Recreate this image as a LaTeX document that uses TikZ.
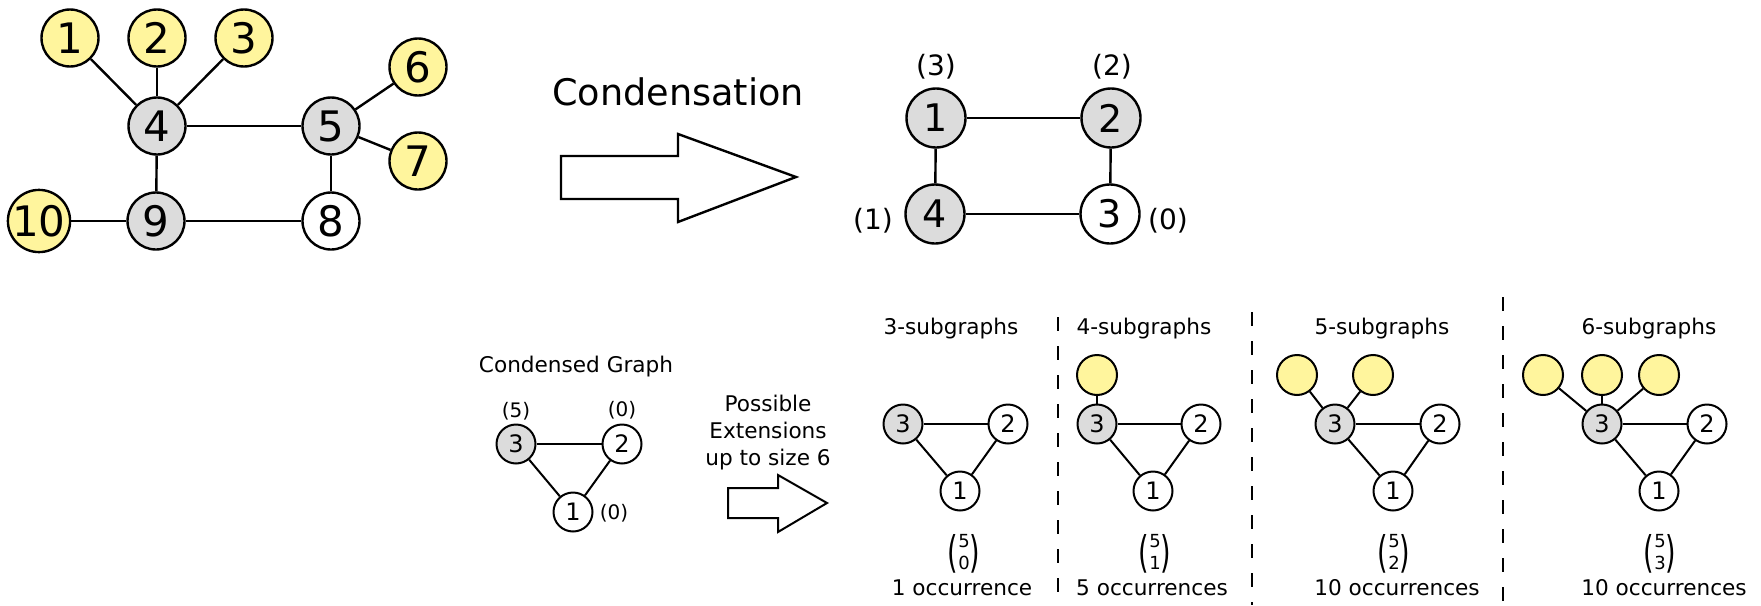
\documentclass[tikz,border=0pt]{standalone}
\usepackage{fontspec}
\setmainfont{DejaVu Sans}
\definecolor{ylw}{HTML}{FFF59D}
\definecolor{gry}{HTML}{DCDCDC}
\newcommand{\myparen}[1]{\vcenter{\hbox{\scalebox{0.9}[1.45]{\fontsize{15}{15}\selectfont#1}}}}
\newcommand{\mybinom}[2]{$\myparen{(}\vcenter{\hbox{\fontsize{9}{10.8}\selectfont\begin{tabular}{@{}c@{}}#1\\#2\end{tabular}}}\myparen{)}$}
\begin{document}
\begin{tikzpicture}[x=0.5pt,y=-0.5pt,
  bign/.style={circle,draw,line width=1.2pt,minimum size=28.5pt,inner sep=0pt,font=\fontsize{21}{21}\selectfont},
  topn/.style={circle,draw,line width=1.2pt,minimum size=29.5pt,inner sep=0pt,font=\fontsize{19}{19}\selectfont},
  sn/.style={circle,draw,line width=1pt,minimum size=19.5pt,inner sep=0pt,font=\fontsize{12}{12}\selectfont},
  yn/.style={circle,draw,line width=1pt,minimum size=20pt,inner sep=0pt,fill=ylw},
  bedge/.style={line width=1.2pt},
  sedge/.style={line width=1pt},
  toplab/.style={font=\fontsize{14}{14}\selectfont,inner sep=0pt},
  smlab/.style={font=\fontsize{10}{10}\selectfont,inner sep=0pt},
  txt/.style={font=\fontsize{10.8}{13.5}\selectfont,inner sep=0pt,align=center},
  binomn/.style={inner sep=0pt},
  bigarrow/.style={draw,line width=1.2pt,fill=white,line join=miter},
  sep/.style={line width=1pt,dash pattern=on 7pt off 7.5pt}
]
\useasboundingbox (0,0) rectangle (1761,605);

% ---------- original graph ----------
\node[bign,fill=ylw] (g1) at (70,38) {1};
\node[bign,fill=ylw] (g2) at (157,38) {2};
\node[bign,fill=ylw] (g3) at (244,38) {3};
\node[bign,fill=gry] (g4) at (157,126) {4};
\node[bign,fill=gry] (g5) at (331,126) {5};
\node[bign,fill=ylw] (g6) at (418,67) {6};
\node[bign,fill=ylw] (g7) at (418,161) {7};
\node[bign,fill=white] (g8) at (331,221) {8};
\node[bign,fill=gry] (g9) at (156,221) {9};
\node[bign,fill=ylw] (g10) at (39,221) {10};
\draw[bedge] (g1) -- (g4);
\draw[bedge] (g2) -- (g4);
\draw[bedge] (g3) -- (g4);
\draw[bedge] (g4) -- (g5);
\draw[bedge] (g4) -- (g9);
\draw[bedge] (g5) -- (g6);
\draw[bedge] (g5) -- (g7);
\draw[bedge] (g5) -- (g8);
\draw[bedge] (g9) -- (g10);
\draw[bedge] (g9) -- (g8);

% ---------- condensation arrow ----------
\node[font=\fontsize{18.3}{18.3}\selectfont,inner sep=0pt] (cond) at (678,92) {Condensation};
\draw[bigarrow] (561,156) -- (678,156) -- (678,134) -- (796,177) -- (678,222) -- (678,199) -- (561,199) -- cycle;

% ---------- condensed (top) ----------
\node[topn,fill=gry] (t1) at (936,118) {1};
\node[topn,fill=gry] (t2) at (1111,118) {2};
\node[topn,fill=white] (t3) at (1110,214) {3};
\node[topn,fill=gry] (t4) at (935,214) {4};
\draw[bedge] (t1) -- (t2);
\draw[bedge] (t1) -- (t4);
\draw[bedge] (t2) -- (t3);
\draw[bedge] (t4) -- (t3);
\node[toplab] (lt1) at (936,67) {(3)};
\node[toplab] (lt2) at (1112,67) {(2)};
\node[toplab] (lt4) at (873,221) {(1)};
\node[toplab] (lt3) at (1168,221) {(0)};

% ---------- condensed graph (bottom left) ----------
\node[txt] (cgt) at (576,367) {Condensed Graph};
\node[sn,fill=gry] (c3) at (516,444) {3};
\node[sn,fill=white] (c2) at (622,444) {2};
\node[sn,fill=white] (c1) at (573,512) {1};
\draw[sedge] (c3) -- (c2);
\draw[sedge] (c3) -- (c1);
\draw[sedge] (c2) -- (c1);
\node[smlab] (lc3) at (516,411) {(5)};
\node[smlab] (lc2) at (622,410) {(0)};
\node[smlab] (lc1) at (614,513) {(0)};

\node[txt] (pe) at (768,433) {Possible\\Extensions\\up to size 6};
\draw[bigarrow,line width=1pt] (728,488) -- (778,488) -- (778,475) -- (827,503) -- (778,532) -- (778,518) -- (728,518) -- cycle;

% ---------- separators ----------
\coordinate (s1t) at (1058,317); \coordinate (s1b) at (1058,605);
\coordinate (s2t) at (1252,312); \coordinate (s2b) at (1252,605);
\coordinate (s3t) at (1503,297); \coordinate (s3b) at (1503,605);
\draw[sep] (s1t) -- (s1b);
\draw[sep] (s2t) -- (s2b);
\draw[sep] (s3t) -- (s3b);

% ---------- 3-subgraphs ----------
\node[txt] (h3) at (951,329) {3-subgraphs};
\node[sn,fill=gry] (a3) at (903,424) {3};
\node[sn,fill=white] (a2) at (1008,424) {2};
\node[sn,fill=white] (a1) at (960,491) {1};
\draw[sedge] (a3) -- (a2);
\draw[sedge] (a3) -- (a1);
\draw[sedge] (a2) -- (a1);
\node[binomn] (ba) at (964,554) {\mybinom{5}{0}};
\node[txt] (oa) at (962,588) {1 occurrence};

% ---------- 4-subgraphs ----------
\node[txt] (h4) at (1144,329) {4-subgraphs};
\node[yn] (by1) at (1097,375) {};
\node[sn,fill=gry] (b3) at (1097,424) {3};
\node[sn,fill=white] (b2) at (1201,424) {2};
\node[sn,fill=white] (b1) at (1153,491) {1};
\draw[sedge] (b3) -- (b2);
\draw[sedge] (b3) -- (b1);
\draw[sedge] (b2) -- (b1);
\draw[sedge] (by1) -- (b3);
\node[binomn] (bb) at (1155,554) {\mybinom{5}{1}};
\node[txt] (ob) at (1152,588) {5 occurrences};

% ---------- 5-subgraphs ----------
\node[txt] (h5) at (1382,329) {5-subgraphs};
\node[yn] (cy1) at (1297,375) {};
\node[yn] (cy2) at (1373,375) {};
\node[sn,fill=gry] (d3) at (1335,424) {3};
\node[sn,fill=white] (d2) at (1440,424) {2};
\node[sn,fill=white] (d1) at (1393,491) {1};
\draw[sedge] (d3) -- (d2);
\draw[sedge] (d3) -- (d1);
\draw[sedge] (d2) -- (d1);
\draw[sedge] (cy1) -- (d3);
\draw[sedge] (cy2) -- (d3);
\node[binomn] (bc) at (1394,554) {\mybinom{5}{2}};
\node[txt] (oc) at (1397,588) {10 occurrences};

% ---------- 6-subgraphs ----------
\node[txt] (h6) at (1649,329) {6-subgraphs};
\node[yn] (ey1) at (1543,375) {};
\node[yn] (ey2) at (1602,375) {};
\node[yn] (ey3) at (1659,375) {};
\node[sn,fill=gry] (e3) at (1602,424) {3};
\node[sn,fill=white] (e2) at (1707,424) {2};
\node[sn,fill=white] (e1) at (1659,491) {1};
\draw[sedge] (e3) -- (e2);
\draw[sedge] (e3) -- (e1);
\draw[sedge] (e2) -- (e1);
\draw[sedge] (ey1) -- (e3);
\draw[sedge] (ey2) -- (e3);
\draw[sedge] (ey3) -- (e3);
\node[binomn] (bd) at (1660,554) {\mybinom{5}{3}};
\node[txt] (od) at (1664,588) {10 occurrences};
\end{tikzpicture}
\end{document}
